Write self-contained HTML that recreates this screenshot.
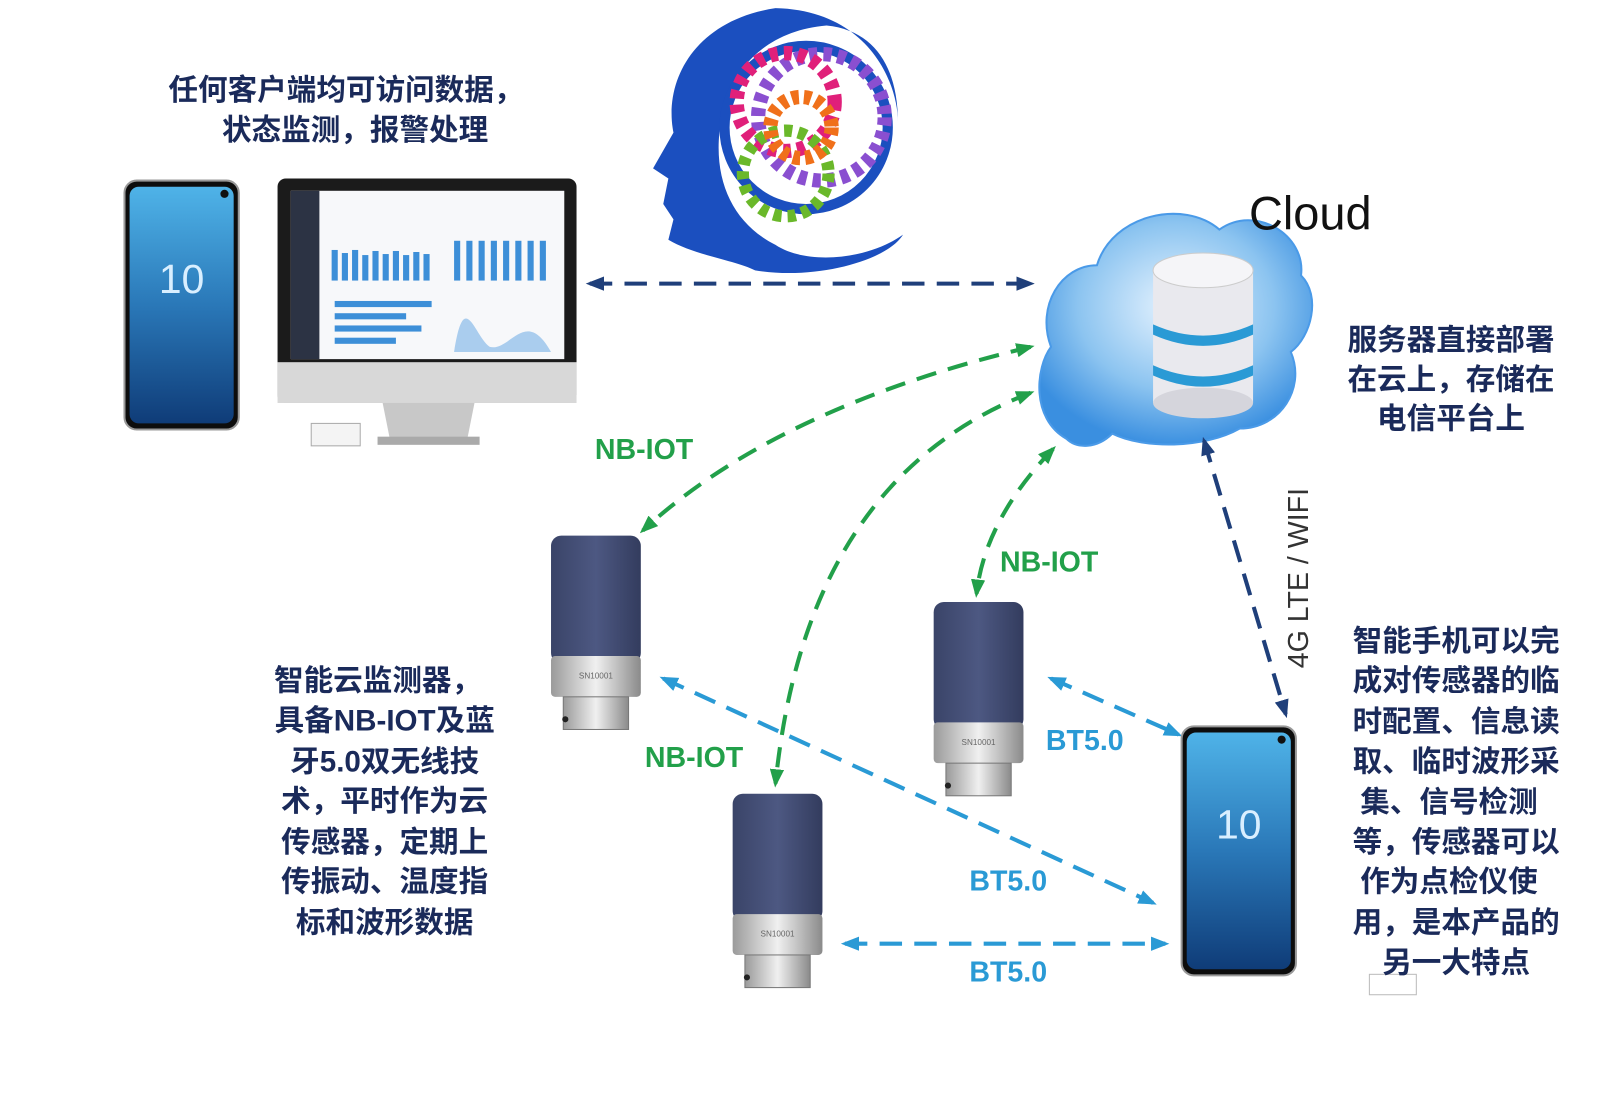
<!DOCTYPE html>
<html><head><meta charset="utf-8">
<style>
html,body{margin:0;padding:0;background:#fff;}
svg{display:block;}
.t{font-family:"Liberation Sans","Noto Sans CJK SC",sans-serif;font-weight:bold;}
</style></head><body>
<svg width="1600" height="1109" viewBox="0 0 1568 1087" preserveAspectRatio="none" xmlns="http://www.w3.org/2000/svg">
<defs>
<linearGradient id="ph" x1="0" y1="0" x2="0" y2="1">
<stop offset="0" stop-color="#4fb3e8"/><stop offset="0.5" stop-color="#2a78b8"/><stop offset="1" stop-color="#0f3c78"/></linearGradient>
<linearGradient id="sen" x1="0" y1="0" x2="1" y2="0">
<stop offset="0" stop-color="#3a4468"/><stop offset="0.5" stop-color="#4d5882"/><stop offset="1" stop-color="#333c5e"/></linearGradient>
<linearGradient id="met" x1="0" y1="0" x2="1" y2="0">
<stop offset="0" stop-color="#9a9a9a"/><stop offset="0.5" stop-color="#f0f0f0"/><stop offset="1" stop-color="#8a8a8a"/></linearGradient>
<radialGradient id="cl" cx="0.5" cy="0.4" r="0.6">
<stop offset="0" stop-color="#e8f4ff"/><stop offset="0.6" stop-color="#8cc4f0"/><stop offset="1" stop-color="#3a8fe0"/></radialGradient>
<marker id="an" markerUnits="userSpaceOnUse" markerWidth="18" markerHeight="14" refX="14" refY="7" orient="auto-start-reverse"><path d="M0,0 L18,7 L0,14 z" fill="#1f3f7a"/></marker>
<marker id="ag" markerUnits="userSpaceOnUse" markerWidth="18" markerHeight="14" refX="14" refY="7" orient="auto-start-reverse"><path d="M0,0 L18,7 L0,14 z" fill="#22a04a"/></marker>
<marker id="ab" markerUnits="userSpaceOnUse" markerWidth="18" markerHeight="14" refX="14" refY="7" orient="auto-start-reverse"><path d="M0,0 L18,7 L0,14 z" fill="#2a9ad5"/></marker>
<g id="sensor">
<rect x="0" y="0" width="88" height="125" rx="10" fill="url(#sen)"/>
<rect x="0" y="118" width="88" height="40" rx="4" fill="url(#met)"/>
<text x="44" y="140" font-size="8" fill="#666" text-anchor="middle" font-family="Liberation Sans">SN10001</text>
<rect x="12" y="158" width="64" height="32" fill="url(#met)" stroke="#777"/>
<circle cx="14" cy="180" r="3" fill="#222"/>
</g>
<g id="phone">
<rect x="0" y="0" width="112" height="244" rx="12" fill="#0d0d0d" stroke="#999" stroke-width="2"/>
<rect x="5" y="6" width="102" height="232" rx="9" fill="url(#ph)"/>
<circle cx="98" cy="13" r="4" fill="#111"/>
<text x="56" y="110" font-size="40" fill="#d9efff" text-anchor="middle" font-family="Liberation Sans">10</text>
</g>
</defs>

<text class="t" x="339" y="98" font-size="29" fill="#1a2a5a" text-anchor="middle">任何客户端均可访问数据，</text>
<text class="t" x="348" y="137" font-size="29" fill="#1a2a5a" text-anchor="middle">状态监测，报警处理</text>

<use href="#phone" x="122" y="177"/>

<rect x="272" y="175" width="293" height="220" rx="8" fill="#1b1b1b"/>
<rect x="285" y="187" width="268" height="165" fill="#f7f8fa"/>
<rect x="285" y="187" width="28" height="165" fill="#2c3344"/>
<g fill="#3d8fd8">
<rect x="325" y="245" width="6" height="30"/><rect x="335" y="248" width="6" height="27"/><rect x="345" y="245" width="6" height="30"/><rect x="355" y="250" width="6" height="25"/><rect x="365" y="246" width="6" height="29"/><rect x="375" y="249" width="6" height="26"/><rect x="385" y="246" width="6" height="29"/><rect x="395" y="250" width="6" height="25"/><rect x="405" y="247" width="6" height="28"/><rect x="415" y="249" width="6" height="26"/>
<rect x="445" y="236" width="6" height="39"/><rect x="457" y="236" width="6" height="39"/><rect x="469" y="236" width="6" height="39"/><rect x="481" y="236" width="6" height="39"/><rect x="493" y="236" width="6" height="39"/><rect x="505" y="236" width="6" height="39"/><rect x="517" y="236" width="6" height="39"/><rect x="529" y="236" width="6" height="39"/>
<rect x="328" y="295" width="95" height="6"/><rect x="328" y="307" width="70" height="6"/><rect x="328" y="319" width="85" height="6"/><rect x="328" y="331" width="60" height="6"/>
</g>
<path d="M445,345 C455,280 465,330 480,340 C500,345 515,300 540,345 Z" fill="#aacdee"/>
<rect x="272" y="355" width="293" height="40" fill="#d8d8d8"/>
<path d="M375,395 L465,395 L458,430 L382,430 Z" fill="#c8c8c8"/>
<rect x="370" y="428" width="100" height="8" fill="#aaa"/>
<rect x="305" y="415" width="48" height="22" fill="#f4f4f4" stroke="#aaa"/>

<path d="M760,8 C680,20 650,80 660,130 L640,165 L655,175 L650,200 L660,215 L655,235 C680,250 720,255 740,265 C800,275 870,255 885,230 C850,255 790,260 760,240 C720,220 700,180 705,130 C710,70 750,30 810,25 C860,30 880,70 880,120 C880,80 850,10 760,8 Z" fill="#1b4fbf"/>
<circle cx="790" cy="125" r="80" fill="none" stroke="#1b4fbf" stroke-width="10"/>
<circle cx="805" cy="115" r="62" fill="none" stroke="#8a4fd0" stroke-width="14" stroke-dasharray="8 6"/>
<circle cx="770" cy="100" r="48" fill="none" stroke="#e0207a" stroke-width="14" stroke-dasharray="8 6"/>
<circle cx="770" cy="170" r="42" fill="none" stroke="#6ab82a" stroke-width="12" stroke-dasharray="8 6"/>
<circle cx="785" cy="125" r="30" fill="none" stroke="#f0701a" stroke-width="14" stroke-dasharray="7 5"/>

<path d="M1045,430 C1010,410 1015,360 1030,340 C1015,300 1040,260 1075,260 C1090,210 1160,195 1195,225 C1230,200 1280,230 1275,270 C1295,290 1285,330 1265,345 C1280,380 1255,420 1215,420 C1180,440 1120,440 1090,425 C1075,440 1055,440 1045,430 Z" fill="url(#cl)" stroke="#4a9ae8" stroke-width="2"/>
<g>
<rect x="1130" y="265" width="98" height="130" fill="#e9e9ee"/>
<ellipse cx="1179" cy="395" rx="49" ry="15" fill="#d5d5dc"/>
<ellipse cx="1179" cy="265" rx="49" ry="17" fill="#f5f5f8" stroke="#ccc"/>
<path d="M1130,318 Q1179,340 1228,318 L1228,328 Q1179,350 1130,328 Z" fill="#2a9ad5"/>
<path d="M1130,358 Q1179,380 1228,358 L1228,368 Q1179,390 1130,368 Z" fill="#2a9ad5"/>
</g>
<text x="1224" y="225" font-size="46" fill="#111" font-family="Liberation Sans">Cloud</text>

<text class="t" x="1422" y="343" font-size="29" fill="#1a2a5a" text-anchor="middle">服务器直接部署</text>
<text class="t" x="1422" y="382" font-size="29" fill="#1a2a5a" text-anchor="middle">在云上，存储在</text>
<text class="t" x="1422" y="420" font-size="29" fill="#1a2a5a" text-anchor="middle">电信平台上</text>

<line x1="578" y1="278" x2="1010" y2="278" stroke="#1f3f7a" stroke-width="4" stroke-dasharray="22 12" marker-start="url(#an)" marker-end="url(#an)"/>
<line x1="1180" y1="432" x2="1260" y2="700" stroke="#1f3f7a" stroke-width="4" stroke-dasharray="22 12" marker-start="url(#an)" marker-end="url(#an)"/>

<path d="M1010,340 Q760,400 630,520" fill="none" stroke="#22a04a" stroke-width="4" stroke-dasharray="20 12" marker-start="url(#ag)" marker-end="url(#ag)"/>
<path d="M1010,385 Q790,470 760,768" fill="none" stroke="#22a04a" stroke-width="4" stroke-dasharray="20 12" marker-start="url(#ag)" marker-end="url(#ag)"/>
<path d="M1032,440 Q965,510 957,582" fill="none" stroke="#22a04a" stroke-width="4" stroke-dasharray="20 12" marker-start="url(#ag)" marker-end="url(#ag)"/>

<line x1="650" y1="665" x2="1130" y2="885" stroke="#2a9ad5" stroke-width="4" stroke-dasharray="22 12" marker-start="url(#ab)" marker-end="url(#ab)"/>
<line x1="1030" y1="665" x2="1155" y2="720" stroke="#2a9ad5" stroke-width="4" stroke-dasharray="22 12" marker-start="url(#ab)" marker-end="url(#ab)"/>
<line x1="828" y1="925" x2="1142" y2="925" stroke="#2a9ad5" stroke-width="4" stroke-dasharray="22 12" marker-start="url(#ab)" marker-end="url(#ab)"/>

<text x="1282" y="655" font-size="28" fill="#333" font-family="Liberation Sans" transform="rotate(-90 1282 655)">4G LTE / WIFI</text>

<use href="#sensor" x="540" y="525"/>
<use href="#sensor" x="915" y="590"/>
<use href="#sensor" x="718" y="778"/>
<use href="#phone" x="1158" y="712"/>
<rect x="1342" y="955" width="46" height="20" fill="#fff" stroke="#bbb"/>

<g class="t" font-size="28" fill="#22a04a">
<text x="583" y="450">NB-IOT</text>
<text x="980" y="560">NB-IOT</text>
<text x="632" y="752">NB-IOT</text>
</g>
<g class="t" font-size="28" fill="#2a9ad5">
<text x="1025" y="735">BT5.0</text>
<text x="950" y="873">BT5.0</text>
<text x="950" y="962">BT5.0</text>
</g>

<g class="t" font-size="29" fill="#1a2a5a" text-anchor="middle">
<text x="370" y="677">智能云监测器，</text>
<text x="377" y="716">具备NB-IOT及蓝</text>
<text x="377" y="756">牙5.0双无线技</text>
<text x="377" y="795">术，平时作为云</text>
<text x="377" y="835">传感器，定期上</text>
<text x="377" y="874">传振动、温度指</text>
<text x="377" y="914">标和波形数据</text>
</g>
<g class="t" font-size="29" fill="#1a2a5a" text-anchor="middle">
<text x="1427" y="638">智能手机可以完</text>
<text x="1427" y="677">成对传感器的临</text>
<text x="1427" y="717">时配置、信息读</text>
<text x="1427" y="756">取、临时波形采</text>
<text x="1420" y="796">集、信号检测</text>
<text x="1427" y="835">等，传感器可以</text>
<text x="1420" y="874">作为点检仪使</text>
<text x="1427" y="914">用，是本产品的</text>
<text x="1427" y="953">另一大特点</text>
</g>
</svg>
</body></html>
